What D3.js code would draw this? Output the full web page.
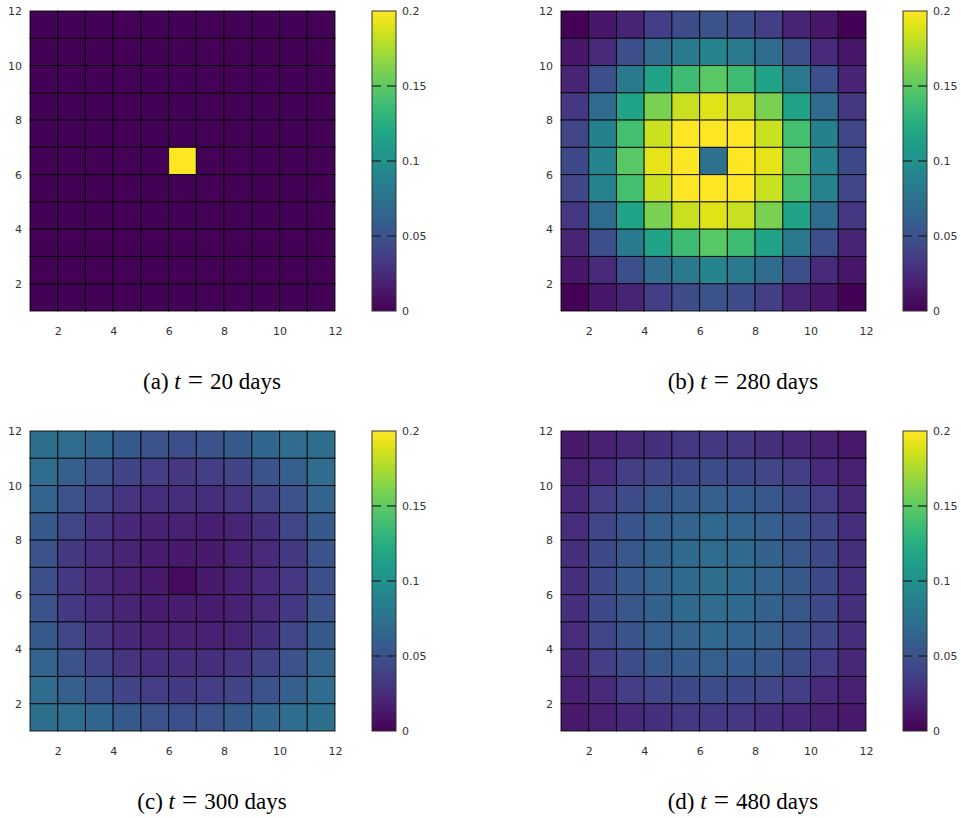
<!DOCTYPE html>
<html>
<head>
<meta charset="utf-8">
<script src="https://cdn.jsdelivr.net/npm/d3@7"></script>
<style>
  body { margin: 0; background: #fff; }
  .tick text { font-family: "DejaVu Sans", sans-serif; font-size: 11px; fill: #333; }
  .caption { font-family: "Liberation Serif", "Times New Roman", serif; font-size: 23px; fill: #000; }
</style>
</head>
<body>
<div id="chart"></div>
<script>
// grid values, rows listed from top (y = 11..12) down to bottom (y = 1..2), columns x = 1..11
const gridA = [
  [0.001, 0.001, 0.001, 0.001, 0.001, 0.001, 0.001, 0.001, 0.001, 0.001, 0.001],
  [0.001, 0.001, 0.001, 0.001, 0.001, 0.001, 0.001, 0.001, 0.001, 0.001, 0.001],
  [0.001, 0.001, 0.001, 0.001, 0.001, 0.001, 0.001, 0.001, 0.001, 0.001, 0.001],
  [0.001, 0.001, 0.001, 0.001, 0.001, 0.001, 0.001, 0.001, 0.001, 0.001, 0.001],
  [0.001, 0.001, 0.001, 0.001, 0.001, 0.001, 0.001, 0.001, 0.001, 0.001, 0.001],
  [0.001, 0.001, 0.001, 0.001, 0.001, 0.2,   0.001, 0.001, 0.001, 0.001, 0.001],
  [0.001, 0.001, 0.001, 0.001, 0.001, 0.001, 0.001, 0.001, 0.001, 0.001, 0.001],
  [0.001, 0.001, 0.001, 0.001, 0.001, 0.001, 0.001, 0.001, 0.001, 0.001, 0.001],
  [0.001, 0.001, 0.001, 0.001, 0.001, 0.001, 0.001, 0.001, 0.001, 0.001, 0.001],
  [0.001, 0.001, 0.001, 0.001, 0.001, 0.001, 0.001, 0.001, 0.001, 0.001, 0.001],
  [0.001, 0.001, 0.001, 0.001, 0.001, 0.001, 0.001, 0.001, 0.001, 0.001, 0.001]
];

const gridB = [
  [0.001, 0.012, 0.020, 0.036, 0.046, 0.050, 0.046, 0.036, 0.020, 0.012, 0.001],
  [0.012, 0.024, 0.048, 0.070, 0.082, 0.090, 0.082, 0.070, 0.048, 0.024, 0.012],
  [0.020, 0.048, 0.082, 0.116, 0.138, 0.148, 0.138, 0.116, 0.082, 0.048, 0.020],
  [0.032, 0.070, 0.116, 0.160, 0.183, 0.190, 0.183, 0.160, 0.116, 0.070, 0.032],
  [0.042, 0.086, 0.140, 0.184, 0.200, 0.200, 0.200, 0.184, 0.140, 0.086, 0.042],
  [0.044, 0.090, 0.148, 0.192, 0.200, 0.074, 0.200, 0.192, 0.148, 0.090, 0.044],
  [0.042, 0.088, 0.140, 0.184, 0.200, 0.200, 0.200, 0.184, 0.140, 0.088, 0.042],
  [0.032, 0.070, 0.116, 0.160, 0.183, 0.190, 0.183, 0.160, 0.116, 0.070, 0.032],
  [0.020, 0.048, 0.082, 0.116, 0.138, 0.148, 0.138, 0.116, 0.082, 0.048, 0.020],
  [0.012, 0.024, 0.048, 0.070, 0.082, 0.090, 0.082, 0.070, 0.048, 0.024, 0.012],
  [0.001, 0.012, 0.020, 0.036, 0.046, 0.050, 0.046, 0.036, 0.020, 0.012, 0.001]
];

const gridC = [
  [0.072, 0.070, 0.066, 0.056, 0.050, 0.048, 0.050, 0.056, 0.066, 0.070, 0.072],
  [0.070, 0.060, 0.050, 0.040, 0.036, 0.032, 0.036, 0.040, 0.050, 0.060, 0.070],
  [0.064, 0.050, 0.040, 0.030, 0.026, 0.026, 0.026, 0.030, 0.040, 0.050, 0.064],
  [0.056, 0.042, 0.030, 0.022, 0.018, 0.018, 0.017, 0.020, 0.028, 0.042, 0.056],
  [0.050, 0.034, 0.026, 0.020, 0.016, 0.014, 0.014, 0.018, 0.024, 0.034, 0.050],
  [0.048, 0.032, 0.024, 0.018, 0.014, 0.006, 0.014, 0.018, 0.024, 0.032, 0.048],
  [0.050, 0.034, 0.026, 0.020, 0.016, 0.016, 0.015, 0.018, 0.024, 0.034, 0.050],
  [0.056, 0.042, 0.030, 0.022, 0.018, 0.018, 0.018, 0.020, 0.028, 0.042, 0.056],
  [0.064, 0.050, 0.040, 0.030, 0.026, 0.026, 0.026, 0.030, 0.040, 0.050, 0.064],
  [0.070, 0.060, 0.050, 0.040, 0.036, 0.034, 0.036, 0.040, 0.050, 0.060, 0.070],
  [0.072, 0.070, 0.066, 0.056, 0.050, 0.048, 0.050, 0.056, 0.066, 0.070, 0.072]
];

const gridD = [
  [0.014, 0.018, 0.022, 0.028, 0.032, 0.034, 0.032, 0.028, 0.022, 0.018, 0.014],
  [0.018, 0.024, 0.036, 0.042, 0.044, 0.046, 0.044, 0.042, 0.036, 0.024, 0.018],
  [0.022, 0.036, 0.046, 0.054, 0.058, 0.060, 0.058, 0.054, 0.046, 0.036, 0.022],
  [0.026, 0.042, 0.052, 0.060, 0.064, 0.068, 0.064, 0.060, 0.052, 0.042, 0.026],
  [0.028, 0.044, 0.054, 0.062, 0.068, 0.070, 0.068, 0.062, 0.054, 0.044, 0.028],
  [0.028, 0.044, 0.056, 0.064, 0.068, 0.072, 0.068, 0.064, 0.056, 0.044, 0.028],
  [0.028, 0.044, 0.054, 0.062, 0.068, 0.070, 0.068, 0.062, 0.054, 0.044, 0.028],
  [0.026, 0.042, 0.052, 0.060, 0.064, 0.068, 0.064, 0.060, 0.052, 0.042, 0.026],
  [0.022, 0.036, 0.046, 0.054, 0.058, 0.060, 0.058, 0.054, 0.046, 0.036, 0.022],
  [0.018, 0.024, 0.036, 0.042, 0.044, 0.046, 0.044, 0.042, 0.036, 0.024, 0.018],
  [0.014, 0.018, 0.022, 0.028, 0.032, 0.034, 0.032, 0.028, 0.022, 0.018, 0.014]
];

const axisTicks = [2, 4, 6, 8, 10, 12];
const cbTicks = [0, 0.05, 0.1, 0.15, 0.2];
const cbTickLabels = ["0", "0.05", "0.1", "0.15", "0.2"];
const panelLetters = ["a", "b", "c", "d"];
const panelDays = [20, 280, 300, 480];

const width = 961, height = 818;
const plotW = 305, plotH = 300;

const svg = d3.select("#chart").append("svg")
  .attr("width", width)
  .attr("height", height);

const color = d3.scaleSequential(d3.interpolateViridis).domain([0, 0.2]).clamp(true);

// one shared gradient for the colour bars
const grad = svg.append("defs").append("linearGradient")
  .attr("id", "viridis")
  .attr("x1", 0).attr("y1", 1).attr("x2", 0).attr("y2", 0);
d3.range(0, 1.0001, 0.05).forEach(t => {
  grad.append("stop").attr("offset", t).attr("stop-color", d3.interpolateViridis(t));
});

function drawPanel(grid, idx, ox, oy) {
  const g = svg.append("g").attr("transform", `translate(${ox},${oy})`);

  const x = d3.scaleLinear().domain([1, 12]).range([0, plotW]);
  const y = d3.scaleLinear().domain([1, 12]).range([plotH, 0]);

  const cells = [];
  grid.forEach((row, r) => {
    row.forEach((v, c) => {
      cells.push({x: c + 1, y: 11 - r, v: v});
    });
  });

  g.selectAll("rect.cell")
    .data(cells)
    .join("rect")
    .attr("class", "cell")
    .attr("x", d => x(d.x))
    .attr("y", d => y(d.y + 1))
    .attr("width", d => x(d.x + 1) - x(d.x))
    .attr("height", d => y(d.y) - y(d.y + 1))
    .attr("fill", d => color(d.v))
    .attr("stroke", "#000")
    .attr("stroke-opacity", 0.85)
    .attr("stroke-width", 1);

  const xAxis = g.append("g")
    .attr("transform", `translate(0,${plotH})`)
    .call(d3.axisBottom(x).tickValues(axisTicks).tickSize(0).tickPadding(16));
  xAxis.select(".domain").remove();

  const yAxis = g.append("g")
    .call(d3.axisLeft(y).tickValues(axisTicks).tickSize(0).tickPadding(8));
  yAxis.select(".domain").remove();

  // colour bar
  const cbX = 342, cbW = 24;
  const cbScale = d3.scaleLinear().domain([0, 0.2]).range([plotH, 0]);
  g.append("rect")
    .attr("x", cbX).attr("y", 0)
    .attr("width", cbW).attr("height", plotH)
    .attr("fill", "url(#viridis)")
    .attr("stroke", "#333")
    .attr("stroke-width", 1);

  // dashed tick marks inside the bar
  cbTicks.slice(1, -1).forEach(v => {
    g.append("line").attr("x1", cbX).attr("x2", cbX + 9)
      .attr("y1", cbScale(v)).attr("y2", cbScale(v))
      .attr("stroke", "#222").attr("stroke-width", 1.3);
    g.append("line").attr("x1", cbX + cbW - 9).attr("x2", cbX + cbW)
      .attr("y1", cbScale(v)).attr("y2", cbScale(v))
      .attr("stroke", "#222").attr("stroke-width", 1.3);
  });

  const cbAxis = g.append("g")
    .attr("transform", `translate(${cbX + cbW},0)`)
    .call(d3.axisRight(cbScale).tickValues(cbTicks)
      .tickFormat((d, i) => cbTickLabels[i]).tickSize(0).tickPadding(6));
  cbAxis.select(".domain").remove();

  // caption
  const cap = g.append("text")
    .attr("class", "caption")
    .attr("x", 182)
    .attr("y", plotH + 78)
    .attr("text-anchor", "middle");
  cap.append("tspan").text(`(${panelLetters[idx]}) `);
  cap.append("tspan").attr("font-style", "italic").text("t");
  cap.append("tspan").attr("dx", 7).attr("font-size", "27px").text("=");
  cap.append("tspan").attr("dx", 7).text(`${panelDays[idx]} days`);
}

drawPanel(gridA, 0, 30, 11);
drawPanel(gridB, 1, 561, 11);
drawPanel(gridC, 2, 30, 431);
drawPanel(gridD, 3, 561, 431);
</script>
</body>
</html>
